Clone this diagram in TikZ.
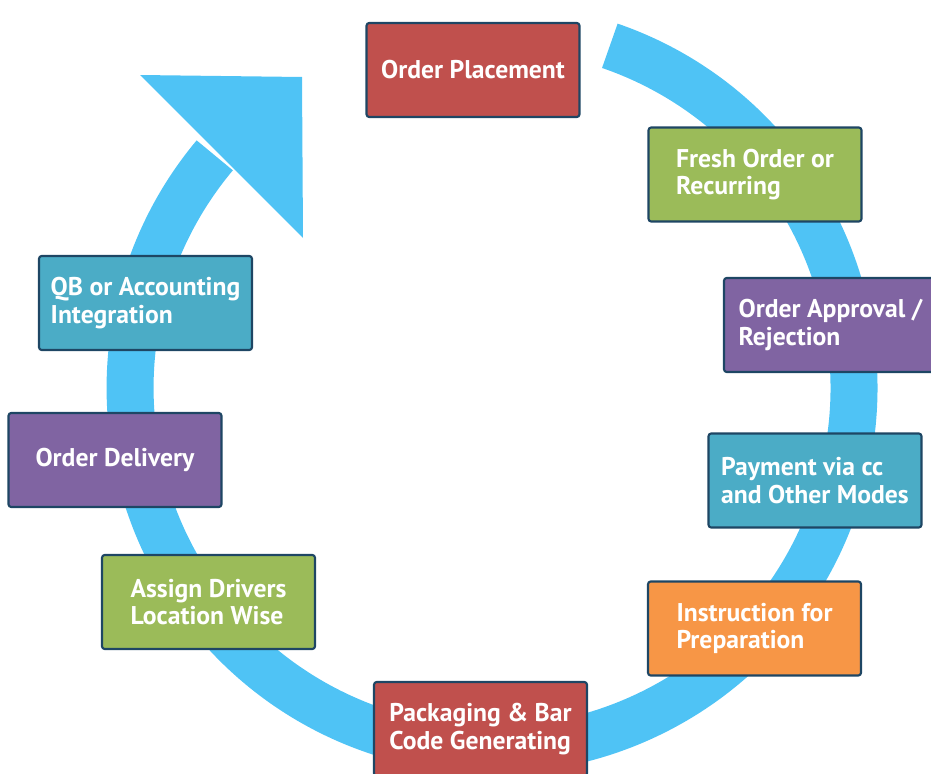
\documentclass[tikz,border=0pt]{standalone}
\usepackage{fontspec}
\setsansfont{PT Sans}
\usepackage{tikz}
\usetikzlibrary{positioning, calc}
\definecolor{ringblue}{RGB}{79,195,245}
\definecolor{boxred}{RGB}{192,80,77}
\definecolor{boxgreen}{RGB}{155,187,89}
\definecolor{boxpurple}{RGB}{128,100,162}
\definecolor{boxteal}{RGB}{75,172,198}
\definecolor{boxorange}{RGB}{247,150,70}
\definecolor{boxline}{RGB}{30,70,100}
\tikzset{
   mybox/.style={draw=boxline, line width=1.2pt, rounded corners=1.5pt,
     minimum width=4.26cm, minimum height=1.88cm, align=left, text=white,
     font=\sffamily\bfseries\fontsize{14.6}{15.6}\selectfont},
   myred/.style={mybox, fill=boxred},
   mygreen/.style={mybox, fill=boxgreen},
   mypurple/.style={mybox, fill=boxpurple},
   myteal/.style={mybox, fill=boxteal},
   myorange/.style={mybox, fill=boxorange},
   myring/.style={draw=ringblue, line width=0.94cm, line cap=butt}
}
\begin{document}
\begin{tikzpicture}[x=0.02cm, y=0.02cm]
      \useasboundingbox (0,0) rectangle (931,-774);
      % ring and arrow head
      \coordinate (centre) at (492,-388);
      \draw[myring] ($(centre)+(71:7.24cm)$) arc[start angle=71, end angle=-220, radius=7.24cm];
      \coordinate (tip) at (302,-77);
      \fill[ringblue] (140,-75) -- (tip) -- (303,-238) -- cycle;
      % steps
      \node[myred] (placement) at (473,-70) {Order Placement};
      \node[mygreen] (fresh) at (755,-174.5) {Fresh Order or\\Recurring};
      \node[mypurple] (approval) at (830.5,-325) {Order Approval /\\Rejection};
      \node[myteal] (payment) at (815,-480.5) {Payment via cc\\and Other Modes};
      \node[myorange] (instruction) at (754.5,-628.5) {Instruction for\\Preparation};
      \node[myred] (packaging) at (480.5,-729) {Packaging \& Bar\\Code Generating};
      \node[mygreen] (drivers) at (208.5,-602) {Assign Drivers\\Location Wise};
      \node[mypurple] (delivery) at (115,-460) {Order Delivery};
      \node[myteal] (accounting) at (145.5,-303) {QB or Accounting\\Integration};
\end{tikzpicture}
\end{document}
